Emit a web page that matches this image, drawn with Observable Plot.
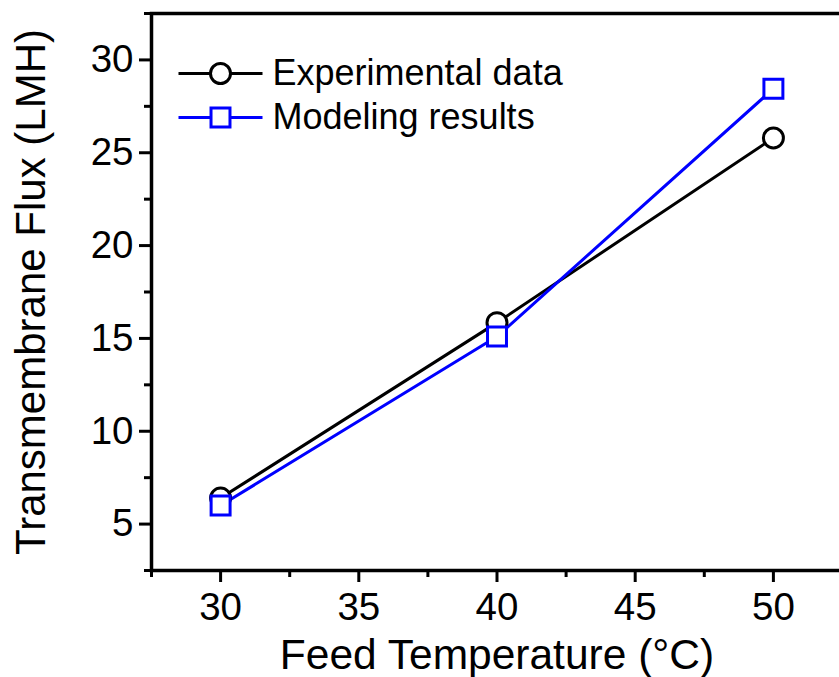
<!DOCTYPE html>
<html><head><meta charset="utf-8">
<script src="https://cdn.jsdelivr.net/npm/d3@7"></script>
<script src="https://cdn.jsdelivr.net/npm/@observablehq/plot@0.6"></script>
<style>html,body{margin:0;padding:0;background:#fff;overflow:hidden}</style>
</head><body><div id="chart"></div>
<script>
const temperatures = [30, 40, 50];
const experimental = [6.4, 15.85, 25.8];
const modeling = [6.0, 15.1, 28.45];
const xMajorTicks = [30, 35, 40, 45, 50];
const xMinorTicks = [27.5, 32.5, 37.5, 42.5, 47.5, 52.5];
const yMajorTicks = [5, 10, 15, 20, 25, 30];
const yMinorTicks = [2.5, 7.5, 12.5, 17.5, 22.5, 27.5, 32.5];
const seriesNames = ["Experimental data", "Modeling results"];
const seriesColors = ["#000000", "#0000ff"];
const xLabel = "Feed Temperature (\u00B0C)";
const yLabel = "Transmembrane Flux (LMH)";

const expData = temperatures.map((t, i) => ({t, v: experimental[i]}));
const modData = temperatures.map((t, i) => ({t, v: modeling[i]}));

function legendSymbol(shape) {
  return {
    draw(ctx, size) {
      const r = Math.sqrt(size / Math.PI);
      const half = 42;
      const s = shape === "circle" ? r : r * Math.sqrt(Math.PI) / 2;
      ctx.moveTo(-half, 0); ctx.lineTo(-s, 0);
      ctx.moveTo(s, 0); ctx.lineTo(half, 0);
      if (shape === "circle") { ctx.moveTo(r, 0); ctx.arc(0, 0, r, 0, 2 * Math.PI); }
      else { ctx.rect(-s, -s, 2 * s, 2 * s); }
    }
  };
}

const font = "'Liberation Sans', Arial, Helvetica, sans-serif";

const chart = Plot.plot({
  width: 839,
  height: 677,
  marginLeft: 151,
  marginTop: 13,
  marginBottom: 107,
  marginRight: -3,
  style: {fontFamily: font, fontSize: "38.5px", color: "#000", background: "#fff"},
  x: {domain: [27.5, 52.5]},
  y: {domain: [2.5, 32.5]},
  marks: [
    Plot.axisX({ticks: xMajorTicks, tickSize: 12, tickPadding: 10, strokeWidth: 3, label: null, fontSize: 38.5}),
    Plot.axisX({ticks: xMinorTicks, tickSize: 7, strokeWidth: 3, text: null, label: null}),
    Plot.axisY({ticks: yMajorTicks, tickSize: 12, tickPadding: 6, strokeWidth: 3, label: null, fontSize: 38.5}),
    Plot.axisY({ticks: yMinorTicks, tickSize: 7, strokeWidth: 3, text: null, label: null}),
    Plot.frame({stroke: "#000", strokeWidth: 3.5}),
    Plot.text([xLabel], {frameAnchor: "bottom", dy: 98, lineAnchor: "bottom", textAnchor: "middle", fontSize: 42.5, fill: "#000"}),
    Plot.text([yLabel], {frameAnchor: "left", rotate: -90, dx: -107, lineAnchor: "bottom", textAnchor: "middle", fontSize: 42, fill: "#000"}),
    Plot.line(expData, {x: "t", y: "v", stroke: seriesColors[0], strokeWidth: 3}),
    Plot.line(modData, {x: "t", y: "v", stroke: seriesColors[1], strokeWidth: 3}),
    Plot.dot(expData, {x: "t", y: "v", symbol: "circle", r: 10, stroke: seriesColors[0], fill: "#fff", strokeWidth: 3}),
    Plot.dot(modData, {x: "t", y: "v", symbol: "square", r: 10.7, stroke: seriesColors[1], fill: "#fff", strokeWidth: 3}),
    Plot.dot([seriesNames[0]], {frameAnchor: "top-left", dx: 69, dy: 60, symbol: legendSymbol("circle"), r: 10, stroke: seriesColors[0], fill: "#fff", strokeWidth: 3}),
    Plot.dot([seriesNames[1]], {frameAnchor: "top-left", dx: 69, dy: 104, symbol: legendSymbol("square"), r: 10.7, stroke: seriesColors[1], fill: "#fff", strokeWidth: 3}),
    Plot.text([seriesNames[0]], {frameAnchor: "top-left", dx: 121, dy: 60, textAnchor: "start", lineAnchor: "middle", fontSize: 36, fill: "#000"}),
    Plot.text([seriesNames[1]], {frameAnchor: "top-left", dx: 121, dy: 104, textAnchor: "start", lineAnchor: "middle", fontSize: 36, fill: "#000"})
  ]
});
document.getElementById("chart").appendChild(chart);
</script>
</body></html>
